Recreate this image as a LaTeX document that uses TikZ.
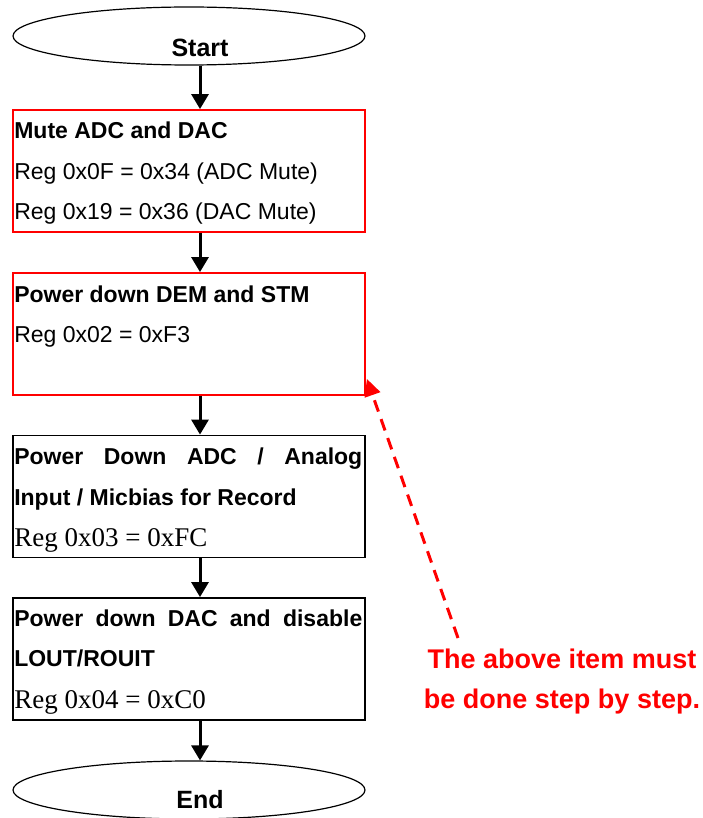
\documentclass[tikz,border=0pt]{standalone}
\usepackage{fontspec}
\setmainfont{Liberation Serif}
\setsansfont{Liberation Sans}
\usetikzlibrary{arrows.meta,shapes.geometric,calc}
\begin{document}
\begin{tikzpicture}[x=1pt,y=-1pt,
  term/.style={ellipse, draw, line width=1.2pt, minimum width=352pt, minimum height=58pt, inner sep=0pt},
  termtext/.style={anchor=base, inner sep=0pt, font=\sffamily\bfseries\fontsize{25}{25}\selectfont},
  stepbox/.style={draw, line width=1.8pt, minimum width=352pt, minimum height=122pt, inner sep=0pt},
  redbox/.style={stepbox, draw=red},
  ttl/.style={anchor=base west, inner sep=0pt, font=\sffamily\bfseries\fontsize{23}{23}\selectfont},
  reg/.style={anchor=base west, inner sep=0pt, font=\sffamily\fontsize{23}{23}\selectfont},
  regt/.style={anchor=base west, inner sep=0pt, font=\rmfamily\fontsize{27}{27}\selectfont},
  flow/.style={-{Triangle[width=17pt,length=15pt]}, line width=3pt},
  notearrow/.style={-{Triangle[width=16pt,length=17pt]}, line width=3pt, red, dash pattern=on 12pt off 8pt},
  note/.style={anchor=base, inner sep=0pt, red, font=\sffamily\bfseries\fontsize{27}{27}\selectfont}
]
\useasboundingbox (0,0) rectangle (703,818);
\clip (0,0) rectangle (703,818);

% terminals
\node[term] (s) at (189,36) {};
\node[termtext] (st) at (200,57) {Start};
\node[term] (e) at (189,790) {};
\node[termtext] (et) at (200,808) {End};

% boxes
\node[redbox] (b1) at (189,171) {};
\node[redbox] (b2) at (189,334) {};
\node[stepbox] (b3) at (189,496.5) {};
\node[stepbox] (b4) at (189,659) {};

% box 1 text
\node[ttl] (b1a) at ($(b1.north west)+(2,29)$) {Mute ADC and DAC};
\node[reg] (b1b) at ($(b1.north west)+(2,70)$) {Reg 0x0F = 0x34 (ADC Mute)};
\node[reg] (b1c) at ($(b1.north west)+(2,110)$) {Reg 0x19 = 0x36 (DAC Mute)};

% box 2 text
\node[ttl] (b2a) at ($(b2.north west)+(2,30)$) {Power down DEM and STM};
\node[reg] (b2b) at ($(b2.north west)+(2,70)$) {Reg 0x02 = 0xF3};

% box 3 text
\node[ttl] (b3a) at ($(b3.north west)+(2,30)$) {\makebox[348pt][s]{Power\hfill Down\hfill ADC\hfill /\hfill Analog}};
\node[ttl] (b3b) at ($(b3.north west)+(2,71)$) {Input / Micbias for Record};
\node[regt] (b3c) at ($(b3.north west)+(2,112)$) {Reg 0x03 = 0xFC};

% box 4 text
\node[ttl] (b4a) at ($(b4.north west)+(2,29)$) {\makebox[348pt][s]{Power\hfill down\hfill DAC\hfill and\hfill disable}};
\node[ttl] (b4b) at ($(b4.north west)+(2,69)$) {LOUT/ROUIT};
\node[regt] (b4c) at ($(b4.north west)+(2,111)$) {Reg 0x04 = 0xC0};

% flow arrows
\draw[flow] ($(s.south)+(11,0)$) -- ($(b1.north)+(11,0)$);
\draw[flow] ($(b1.south)+(11,0)$) -- ($(b2.north)+(11,0)$);
\draw[flow] ($(b2.south)+(11,0)$) -- ($(b3.north)+(11,0)$);
\draw[flow] ($(b3.south)+(11,0)$) -- ($(b4.north)+(11,0)$);
\draw[flow] ($(b4.south)+(11,0)$) -- ($(e.north)+(11,0)$);

% note
\node[note] (n1) at (562,668) {The above item must};
\node[note] (n2) at (562,708) {be done step by step.};
\coordinate (nstart) at (458,638);
\draw[notearrow] (nstart) -- ($(b2.south east)+(1,-17)$);
\end{tikzpicture}
\end{document}
